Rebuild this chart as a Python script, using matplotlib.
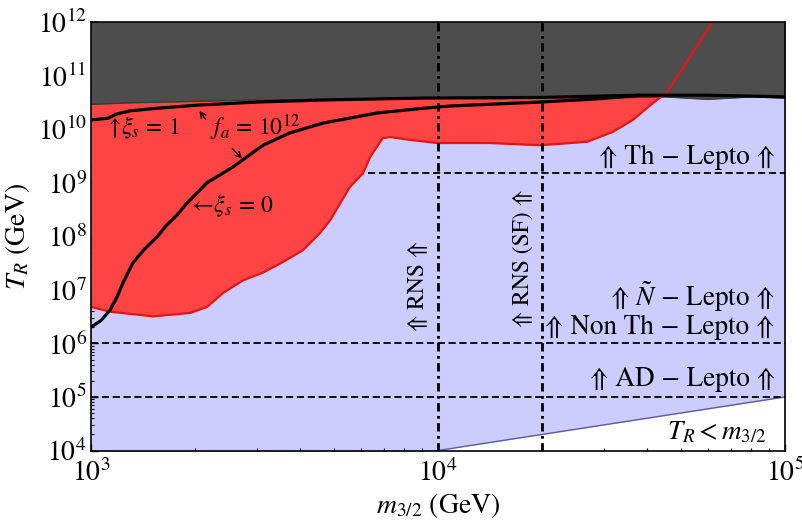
import numpy as np
import matplotlib
matplotlib.use("Agg")
import matplotlib.pyplot as plt
from matplotlib.ticker import LogLocator, NullFormatter

plt.rcParams['font.family'] = ['STIXGeneral', 'DejaVu Serif']
plt.rcParams['mathtext.fontset'] = 'stix'

# ---- data ----
# lower edge of the red (excluded) region, continuing above the gray band
red_m = [1000, 1135, 1510, 1930, 2160, 2400, 2740, 3130, 3570, 4080, 4570, 4890,
         5570, 6080, 6370, 6930, 7280, 8300, 9930, 14100, 19700, 26900, 31900,
         36500, 41700, 45700, 53200, 61700]
red_T = [4.8e6, 3.9e6, 3.2e6, 3.7e6, 4.8e6, 8.7e6, 1.5e7, 2.1e7, 3.3e7, 5.5e7, 1.15e8, 2.0e8,
         8.3e8, 1.5e9, 3.0e9, 6.8e9, 7.1e9, 6.3e9, 5.5e9, 5.5e9, 5.0e9, 5.8e9, 8.9e9,
         1.5e10, 3.1e10, 4.9e10, 2.2e11, 1.0e12]

# lower edge of the dark gray region
gray_m = [1000, 1300, 2000, 3000, 5000, 8000, 10000, 15000, 20000, 30000, 45000, 60000, 80000, 100000]
gray_T = [2.9e10, 3.1e10, 3.3e10, 3.5e10, 3.6e10, 3.8e10, 3.8e10, 3.7e10, 3.9e10, 3.8e10,
          4.0e10, 3.6e10, 4.0e10, 3.8e10]

# f_a = 1e12, xi_s = 1
xi1_m = [1000, 1120, 1180, 1300, 1549, 2020, 3010, 4670, 9060, 19700, 38200, 59600, 100000]
xi1_T = [1.48e10, 1.6e10, 1.9e10, 2.2e10, 2.45e10, 2.8e10, 3.2e10, 3.5e10, 3.8e10, 3.9e10, 4.3e10, 4.3e10, 4.0e10]

# f_a = 1e12, xi_s = 0
xi0_m = [1000, 1070, 1135, 1190, 1236, 1321, 1420, 1549, 1650, 1770, 1880, 2160, 2560,
         3130, 3740, 4670, 6670, 9060, 10800, 19700, 29300, 38200]
xi0_T = [2.0e6, 2.7e6, 4.2e6, 7.5e6, 1.35e7, 3.2e7, 5.6e7, 9.7e7, 1.6e8, 2.5e8, 4.0e8, 1.0e9, 1.95e9,
         5.0e9, 8.5e9, 1.3e10, 2.0e10, 2.45e10, 2.7e10, 3.2e10, 3.7e10, 4.3e10]

# T_R = m_3/2 boundary
diag_m = [1e3, 1e5]
diag_T = [1e3, 1e5]

# horizontal leptogenesis bounds
th_lepto = 1.5e9
nonth_lepto = 1e6
ad_lepto = 1e5

# vertical RNS bounds
rns = 1e4
rns_sf = 2e4

xlim = (1e3, 1e5)
ylim = (1e4, 1e12)

fig = plt.figure(figsize=(8.02, 5.21), dpi=100)
ax = fig.add_axes([0.1135, 0.1353, 0.8653, 0.8225])

ax.set_xscale('log')
ax.set_yscale('log')
ax.set_xlim(*xlim)
ax.set_ylim(*ylim)

# lavender allowed region above T_R = m
ax.fill_between(diag_m, diag_T, ylim[1], color='#ccccff', lw=0, zorder=1)
ax.plot(diag_m, diag_T, color='#5a5aa8', lw=1.0, zorder=2)

# red region
ax.fill_between(red_m, red_T, ylim[1], color='#ff4444', lw=0, zorder=2)

# gray region
ax.fill_between(gray_m, gray_T, ylim[1], color='#4d4d4d', lw=0, zorder=3)
ax.plot(gray_m, gray_T, color='#3a3a3a', lw=1.0, zorder=3)

# red boundary line
ax.plot(red_m, red_T, color='#e81414', lw=1.6, zorder=4)

# black curves
ax.plot(xi1_m, xi1_T, color='black', lw=2.3, zorder=5, solid_capstyle='butt')
ax.plot(xi0_m, xi0_T, color='black', lw=2.3, zorder=5, solid_capstyle='butt')

# horizontal dashed lines
for yv in (th_lepto, nonth_lepto, ad_lepto):
    xs0 = 6300 if yv == th_lepto else xlim[0]
    ax.plot([xs0, xlim[1]], [yv, yv], color='black', lw=1.3, ls=(0, (4, 2)), zorder=6)

# vertical dash-dot lines
for xv in (rns, rns_sf):
    ax.plot([xv, xv], [ylim[0], ylim[1]], color='black', lw=2.0, ls=(0, (3, 1.6, 1, 1.6)), zorder=6)

fs = 19.5
ax.text(93500, 3.0e9, '⇑ Th − Lepto ⇑', ha='right', va='center', fontsize=fs, zorder=7)
ax.text(93500, 7.4e6, r'⇑ $\tilde{N}$ − Lepto ⇑', ha='right', va='center', fontsize=fs, zorder=7)
ax.text(93500, 2.0e6, '⇑ Non Th − Lepto ⇑', ha='right', va='center', fontsize=fs, zorder=7)
ax.text(93500, 2.1e5, '⇑ AD − Lepto ⇑', ha='right', va='center', fontsize=fs, zorder=7)
ax.text(88700, 2.2e4, r'$T_R < m_{3/2}$', ha='right', va='center', fontsize=fs, zorder=7)
ax.text(8750, 1.17e7, '⇑ RNS ⇑', rotation=90, ha='center', va='center', fontsize=17, zorder=7)
ax.text(17600, 3.9e7, '⇑ RNS (SF) ⇑', rotation=90, ha='center', va='center', fontsize=17, zorder=7)

fs2 = 17
ax.text(1097, 1.05e10, r'$\uparrow\!\xi_s\,=\,1$', ha='left', va='center', fontsize=fs2, zorder=7)
ax.text(2200, 1.05e10, r'$f_a\,=\,10^{12}$', ha='left', va='center', fontsize=fs2, zorder=7)
ax.text(1905, 3.7e8, r'$\leftarrow\!\xi_s\,=\,0$', ha='left', va='center', fontsize=fs2, zorder=7)
ax.annotate('', xy=(2030, 2.4e10), xytext=(2160, 1.4e10),
            arrowprops=dict(arrowstyle='->', color='black', lw=1.0), zorder=7)
ax.annotate('', xy=(2760, 2.6e9), xytext=(2520, 4.7e9),
            arrowprops=dict(arrowstyle='->', color='black', lw=1.0), zorder=7)

ax.set_xlabel(r'$m_{3/2}$ (GeV)', fontsize=20, va='center')
ax.xaxis.set_label_coords(0.5, -0.128)
ax.set_ylabel(r'$T_R$ (GeV)', fontsize=20, labelpad=4)

ax.xaxis.set_major_locator(LogLocator(base=10, numticks=10))
ax.xaxis.set_minor_locator(LogLocator(base=10, subs=np.arange(2, 10), numticks=20))
ax.yaxis.set_major_locator(LogLocator(base=10, numticks=20))
ax.yaxis.set_minor_locator(LogLocator(base=10, subs=np.arange(2, 10), numticks=40))
ax.xaxis.set_minor_formatter(NullFormatter())
ax.yaxis.set_minor_formatter(NullFormatter())
ax.tick_params(which='both', direction='in', top=False, right=False, labelsize=20)
ax.tick_params(which='major', length=5, width=1.0)
ax.tick_params(which='minor', length=2.5, width=0.8)
ax.tick_params(axis='x', pad=6)
ax.tick_params(axis='y', pad=3)
for s in ax.spines.values():
    s.set_linewidth(1.2)
    s.set_zorder(10)

fig.savefig('out.png', dpi=100)
